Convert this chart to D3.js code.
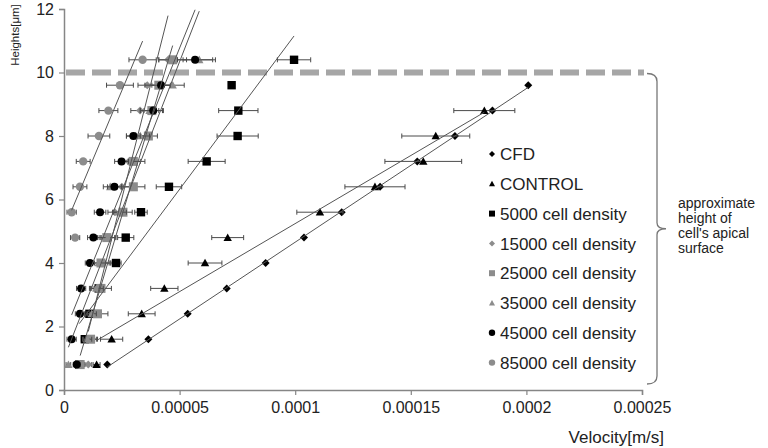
<!DOCTYPE html>
<html>
<head>
<meta charset="utf-8">
<script src="https://cdn.jsdelivr.net/npm/d3@7"></script>
<style>
  body { margin: 0; background: #fff; }
  svg { display: block; font-family: "Liberation Sans", Arial, sans-serif; }
</style>
</head>
<body>
<div id="chart"></div>
<script>

// heights the velocity was sampled at [um]
var heightsCfd     = [0.8, 1.6, 2.4, 3.2, 4.0, 4.8, 5.6, 6.4, 7.2, 8.0, 8.8, 9.6];
var heightsControl = [0.8, 1.6, 2.4, 3.2, 4.0, 4.8, 5.6, 6.4, 7.2, 8.0, 8.8];
var heightsFull    = [0.8, 1.6, 2.4, 3.2, 4.0, 4.8, 5.6, 6.4, 7.2, 8.0, 8.8, 9.6, 10.4];
var heights85000   = [4.8, 5.6, 6.4, 7.2, 8.0, 8.8, 9.6, 10.4];

// velocities [m/s]
var cfdVelocity = [0.0000187, 0.0000365, 0.0000535, 0.0000704, 0.0000872, 0.0001038,
                   0.0001201, 0.0001367, 0.0001528, 0.0001691, 0.0001853, 0.0002008];

var controlVelocity = [0.0000141, 0.0000206, 0.0000336, 0.0000434, 0.0000610, 0.0000708,
                       0.0001107, 0.0001345, 0.0001554, 0.0001608, 0.0001818];
var controlError    = [0.0000015, 0.0000048, 0.0000058, 0.0000059, 0.0000073, 0.0000069,
                       0.0000100, 0.0000130, 0.0000166, 0.0000147, 0.0000132];

var d5000Velocity = [0.0000066, 0.0000090, 0.0000110, 0.0000150, 0.0000225, 0.0000267, 0.0000333,
                     0.0000454, 0.0000617, 0.0000751, 0.0000754, 0.0000725, 0.0000995];
var d5000Error    = [0.0000010, 0.0000015, 0.0000015, 0.0000020, 0.0000022, 0.0000035, 0.0000027,
                     0.0000055, 0.0000080, 0.0000089, 0.0000085, 0.0000010, 0.0000072];

var d15000Velocity = [0.0000105, 0.0000120, 0.0000130, 0.0000145, 0.0000170, 0.0000190, 0.0000220,
                      0.0000250, 0.0000280, 0.0000310, 0.0000329, 0.0000360, 0.0000450];
var d15000Error    = [0.0000015, 0.0000020, 0.0000020, 0.0000025, 0.0000025, 0.0000030, 0.0000030,
                      0.0000035, 0.0000035, 0.0000040, 0.0000040, 0.0000040, 0.0000040];

var d25000Velocity = [0.0000070, 0.0000115, 0.0000145, 0.0000160, 0.0000160, 0.0000185, 0.0000255,
                      0.0000300, 0.0000300, 0.0000365, 0.0000380, 0.0000410, 0.0000470];
var d25000Error    = [0.0000020, 0.0000030, 0.0000045, 0.0000045, 0.0000040, 0.0000040, 0.0000040,
                      0.0000050, 0.0000050, 0.0000039, 0.0000050, 0.0000060, 0.0000060];

var d35000Velocity = [0.0000019, 0.0000100, 0.0000120, 0.0000140, 0.0000150, 0.0000190, 0.0000240,
                      0.0000200, 0.0000290, 0.0000330, 0.0000370, 0.0000470, 0.0000585];
var d35000Error    = [0.0000010, 0.0000020, 0.0000020, 0.0000030, 0.0000030, 0.0000030, 0.0000030,
                      0.0000030, 0.0000040, 0.0000040, 0.0000040, 0.0000050, 0.0000070];

var d45000Velocity = [0.0000055, 0.0000033, 0.0000069, 0.0000074, 0.0000112, 0.0000127, 0.0000156,
                      0.0000218, 0.0000249, 0.0000300, 0.0000386, 0.0000420, 0.0000567];
var d45000Error    = [0.0000015, 0.0000020, 0.0000020, 0.0000020, 0.0000020, 0.0000025, 0.0000025,
                      0.0000030, 0.0000030, 0.0000030, 0.0000040, 0.0000040, 0.0000076];

var d85000Velocity = [0.0000048, 0.0000033, 0.0000069, 0.0000083, 0.0000151, 0.0000192, 0.0000242, 0.0000340];
var d85000Error    = [0.0000020, 0.0000020, 0.0000030, 0.0000030, 0.0000047, 0.0000041, 0.0000058, 0.0000059];

var xTicks      = [0, 0.00005, 0.0001, 0.00015, 0.0002, 0.00025];
var xTickLabels = ["0", "0.00005", "0.0001", "0.00015", "0.0002", "0.00025"];
var yTicks      = [0, 2, 4, 6, 8, 10, 12];

var apicalHeight = 10;
var noteLines = ["approximate", "height of", "cell's apical", "surface"];

(function () {

    "use strict";

    var width = 768, height = 448,
        black = "#000", grey = "#8c8c8c";

    var series = [
        { name: "CFD",                 h: heightsCfd,     v: cfdVelocity,     e: null,         shape: "diamond",  color: black, r: 4 },
        { name: "CONTROL",             h: heightsControl, v: controlVelocity, e: controlError, shape: "triangle", color: black, r: 4.2 },
        { name: "5000 cell density",   h: heightsFull,    v: d5000Velocity,   e: d5000Error,   shape: "square",   color: black, r: 4.2 },
        { name: "15000 cell density",  h: heightsFull,    v: d15000Velocity,  e: d15000Error,  shape: "diamond",  color: grey,  r: 4 },
        { name: "25000 cell density",  h: heightsFull,    v: d25000Velocity,  e: d25000Error,  shape: "square",   color: grey,  r: 4.5 },
        { name: "35000 cell density",  h: heightsFull,    v: d35000Velocity,  e: d35000Error,  shape: "triangle", color: grey,  r: 4.2 },
        { name: "45000 cell density",  h: heightsFull,    v: d45000Velocity,  e: d45000Error,  shape: "circle",   color: black, r: 4 },
        { name: "85000 cell density",  h: heights85000,   v: d85000Velocity,  e: d85000Error,  shape: "circle",   color: grey,  r: 4.2 }
    ];

    function shapePath(shape, r) {
        if (shape === "diamond")  return "M0," + (-r) + "L" + r + ",0L0," + r + "L" + (-r) + ",0Z";
        if (shape === "square")   return "M" + (-r) + "," + (-r) + "h" + 2 * r + "v" + 2 * r + "h" + (-2 * r) + "Z";
        if (shape === "triangle") return "M0," + (-r) + "L" + r + "," + (r * 0.8) + "L" + (-r) + "," + (r * 0.8) + "Z";
        return d3.symbol(d3.symbolCircle, Math.PI * r * r)();
    }

    // least squares of height on velocity, like the excel trendline
    function trend(xs, ys) {
        var mx = d3.mean(xs), my = d3.mean(ys), sxy = 0, sxx = 0;
        xs.forEach(function (x, i) { sxy += (x - mx) * (ys[i] - my); sxx += (x - mx) * (x - mx); });
        var slope = sxy / sxx, icpt = my - slope * mx, x0 = d3.min(xs), x1 = d3.max(xs);
        return [[x0, icpt + slope * x0], [x1, icpt + slope * x1]];
    }

    var x = d3.scaleLinear().domain([0, 0.00025]).range([64, 642]);
    var y = d3.scaleLinear().domain([0, 12]).range([390, 9]);

    var svg = d3.select("#chart").append("svg")
        .attr("width", width)
        .attr("height", height);

    // dashed line marking the apical surface
    svg.append("line")
        .attr("x1", x(0) + 2).attr("x2", x(0.00025) + 2)
        .attr("y1", y(apicalHeight)).attr("y2", y(apicalHeight))
        .attr("stroke", "#a6a6a6")
        .attr("stroke-width", 6)
        .attr("stroke-dasharray", "19,7");

    // axes
    var xAxis = svg.append("g")
        .attr("transform", "translate(0," + y(0) + ")")
        .call(d3.axisBottom(x).tickValues(xTicks)
            .tickFormat(function (d, i) { return xTickLabels[i]; })
            .tickSizeOuter(0).tickSize(5).tickPadding(7));

    var yAxis = svg.append("g")
        .attr("transform", "translate(" + x(0) + ",0)")
        .call(d3.axisLeft(y).tickValues(yTicks).tickSizeOuter(0).tickSize(5).tickPadding(5));

    [xAxis, yAxis].forEach(function (g) {
        g.select(".domain").attr("stroke", "#868686").attr("stroke-width", 1.5);
        g.selectAll(".tick line").attr("stroke", "#868686").attr("stroke-width", 1.2);
        g.selectAll(".tick text").attr("fill", "#222").style("font-size", "16px");
    });

    svg.append("text")
        .attr("transform", "translate(19,35) rotate(-90)")
        .attr("text-anchor", "middle")
        .attr("fill", "#222")
        .style("font-size", "11.5px")
        .text("Heights[\u03bcm]");

    svg.append("text")
        .attr("x", 664).attr("y", 443)
        .attr("text-anchor", "end")
        .attr("fill", "#222")
        .style("font-size", "17px")
        .text("Velocity[m/s]");

    // error bars and markers, series in excel order
    series.forEach(function (s) {

        var g = svg.append("g");

        if (s.e) {
            var eb = g.selectAll(".err").data(s.v).enter().append("g")
                .attr("stroke", "#4a4a4a").attr("stroke-width", 1);
            eb.append("line")
                .attr("x1", function (d, i) { return x(d - s.e[i]); })
                .attr("x2", function (d, i) { return x(d + s.e[i]); })
                .attr("y1", function (d, i) { return y(s.h[i]); })
                .attr("y2", function (d, i) { return y(s.h[i]); });
            [-1, 1].forEach(function (side) {
                eb.append("line")
                    .attr("x1", function (d, i) { return x(d + side * s.e[i]); })
                    .attr("x2", function (d, i) { return x(d + side * s.e[i]); })
                    .attr("y1", function (d, i) { return y(s.h[i]) - 2.5; })
                    .attr("y2", function (d, i) { return y(s.h[i]) + 2.5; });
            });
        }

        g.selectAll(".pt").data(s.v).enter().append("path")
            .attr("d", shapePath(s.shape, s.r))
            .attr("transform", function (d, i) { return "translate(" + x(d) + "," + y(s.h[i]) + ")"; })
            .attr("fill", s.color);
    });

    // linear trendlines
    var line = d3.line().x(function (d) { return x(d[0]); }).y(function (d) { return y(d[1]); });
    series.forEach(function (s) {
        svg.append("path")
            .attr("d", line(trend(s.v, s.h)))
            .attr("fill", "none")
            .attr("stroke", "#555")
            .attr("stroke-width", 1);
    });

    // legend
    var legend = svg.append("g").attr("transform", "translate(492,154)");
    var row = legend.selectAll("g").data(series).enter().append("g")
        .attr("transform", function (d, i) { return "translate(0," + i * 29.8 + ")"; });
    row.append("path")
        .attr("d", function (d) { return shapePath(d.shape, d.shape === "circle" ? 3.2 : 3); })
        .attr("fill", function (d) { return d.color; });
    row.append("text")
        .attr("x", 8).attr("dy", "0.36em")
        .attr("fill", "#222")
        .style("font-size", "17px")
        .text(function (d) { return d.name; });

    // bracket for the apical surface note
    var top = y(apicalHeight) + 1, bot = y(0) - 6, mid = (top + bot) / 2, bx = 657;
    svg.append("path")
        .attr("d", "M" + (bx - 10) + "," + top + "Q" + bx + "," + top + " " + bx + "," + (top + 8) +
                   "V" + (mid - 6) + "Q" + bx + "," + mid + " " + (bx + 9) + "," + mid +
                   "Q" + bx + "," + mid + " " + bx + "," + (mid + 6) +
                   "V" + (bot - 8) + "Q" + bx + "," + bot + " " + (bx - 10) + "," + bot)
        .attr("fill", "none")
        .attr("stroke", "#777")
        .attr("stroke-width", 1.3);

    svg.append("text")
        .attr("x", 678).attr("y", 208)
        .attr("fill", "#222")
        .style("font-size", "14px")
        .selectAll("tspan").data(noteLines).enter().append("tspan")
        .attr("x", 678)
        .attr("dy", function (d, i) { return i === 0 ? 0 : 15; })
        .text(function (d) { return d; });

}());
</script>
</body>
</html>
